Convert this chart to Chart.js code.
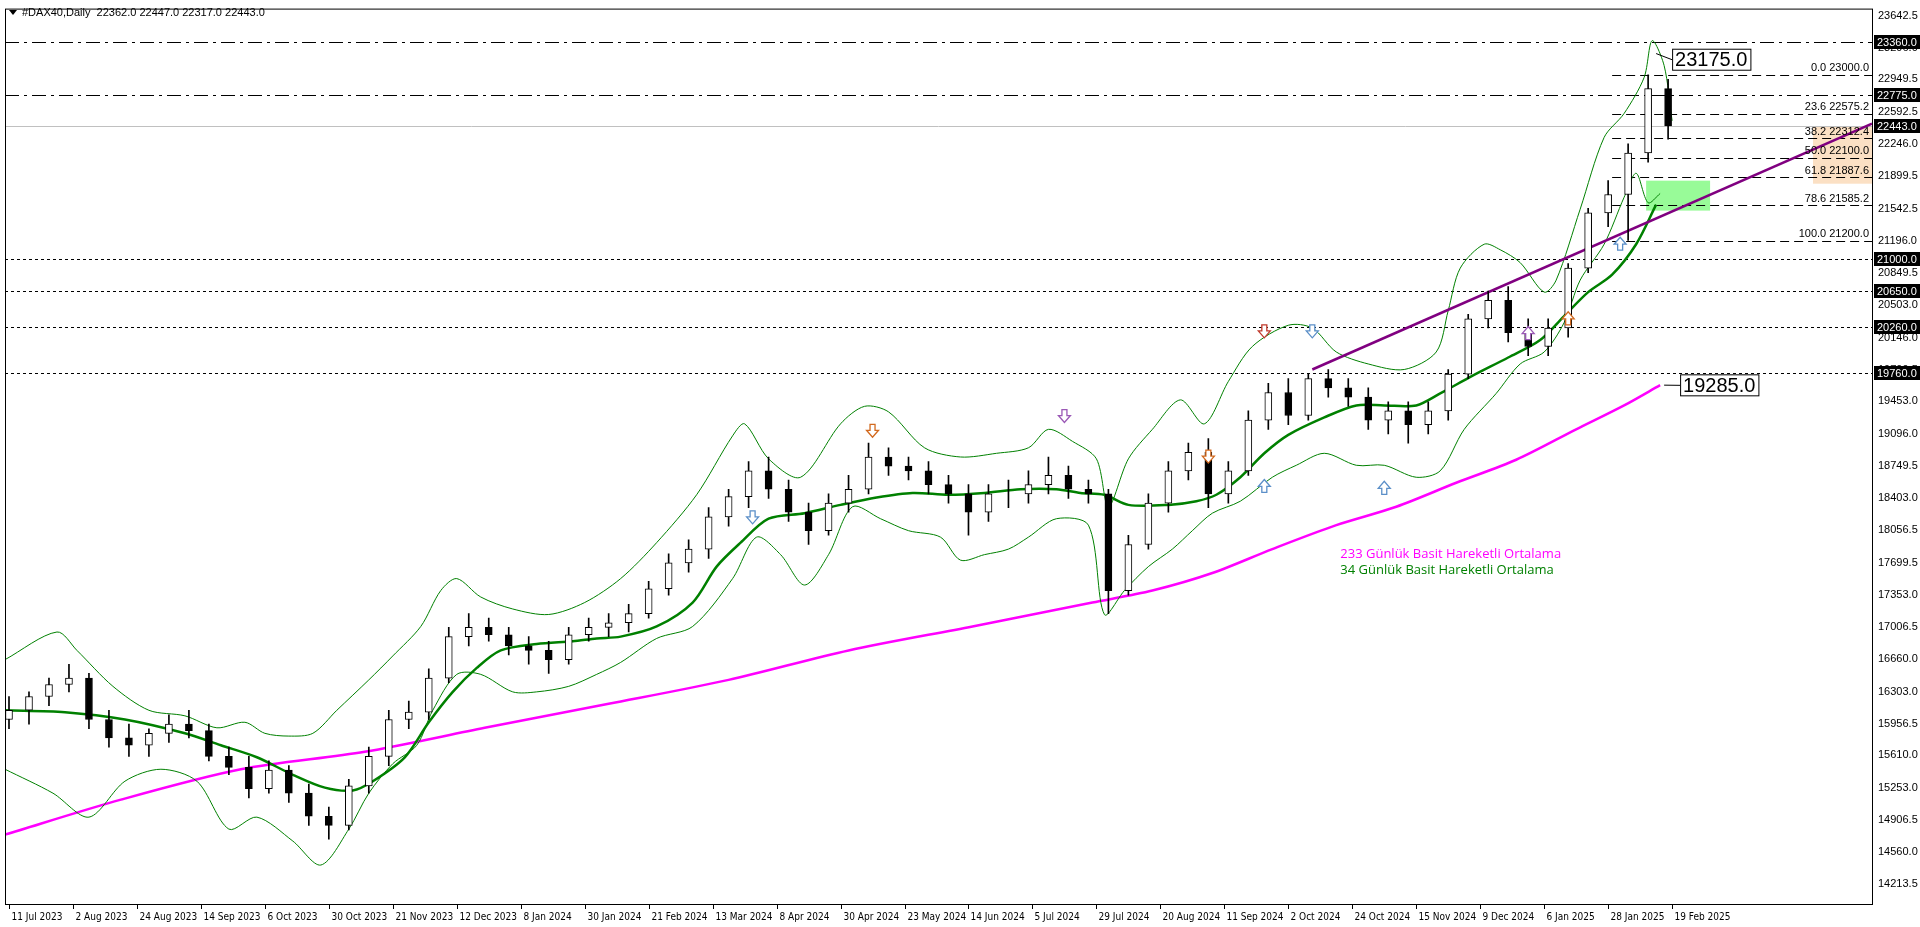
<!DOCTYPE html>
<html>
<head>
<meta charset="utf-8">
<script src="https://cdn.jsdelivr.net/npm/chart.js@4/dist/chart.umd.min.js"></script>
<style>
  html, body { margin: 0; padding: 0; background: #fff; }
  #wrap { width: 1920px; height: 927px; position: relative; }
</style>
</head>
<body>
<div id="wrap"><canvas id="chart"></canvas></div>
<script>
// weekly-sampled candles (bar index = trading days since 11 Jul 2023)
const candleBars = [0,5,10,15,20,25,30,35,40,45,50,55,60,65,70,75,80,85,90,95,100,105,110,115,120,125,130,135,140,145,150,155,160,165,170,175,180,185,190,195,200,205,210,215,220,225,230,235,240,245,250,255,260,265,270,275,280,285,290,295,300,305,310,315,320,325,330,335,340,345,350,355,360,365,370,375,380,385,390,395,400,405,410,415];
const candleOpen = [16000,16100,16250,16380,16450,16000,15800,15720,15850,15950,15880,15600,15480,15250,15450,15200,14950,14850,15280,15600,16000,16080,16450,16900,17000,16920,16800,16750,16650,16920,17000,17050,17150,17420,17700,17850,18200,18420,18700,18500,18250,18050,18350,18500,18850,18750,18700,18550,18450,18250,18450,18450,18550,18650,18500,18450,17400,17900,18350,18700,18900,18450,18700,19250,19550,19300,19700,19600,19500,19250,19350,19200,19350,19750,20350,20550,20200,20050,20250,20900,21500,21700,22150,22850];
const candleHigh = [16250,16300,16450,16600,16500,16100,15950,15900,16050,16100,15950,15700,15600,15550,15500,15300,15050,15350,15700,16100,16200,16550,17000,17150,17100,17000,16900,16850,17000,17100,17150,17250,17500,17800,17950,18300,18500,18800,18850,18600,18350,18450,18650,19000,18950,18850,18800,18650,18550,18550,18600,18700,18850,18750,18600,18500,18000,18450,18800,19000,19050,18800,19350,19650,19700,19750,19800,19700,19600,19450,19450,19450,19800,20400,20650,20700,20350,20350,20950,21550,21850,22250,23000,22950];
const candleLow = [15900,15950,16150,16300,15900,15700,15600,15600,15750,15800,15550,15400,15150,15200,15100,14850,14700,14800,15200,15500,15900,16000,16400,16800,16850,16700,16600,16500,16600,16850,16900,16950,17100,17350,17600,17750,18100,18300,18400,18150,17900,18000,18250,18450,18650,18600,18450,18350,18000,18150,18300,18350,18450,18400,18350,17150,17350,17850,18250,18600,18300,18350,18650,19150,19200,19250,19500,19400,19150,19100,19000,19100,19250,19700,20250,20100,19950,19950,20150,20850,21350,21200,22050,22300];
const candleClose = [16100,16250,16380,16450,16000,15800,15720,15850,15950,15880,15600,15480,15250,15450,15200,14950,14850,15280,15600,16000,16080,16450,16900,17000,16920,16800,16750,16650,16920,17000,17050,17150,17420,17700,17850,18200,18420,18700,18500,18250,18050,18350,18500,18850,18750,18700,18550,18450,18250,18450,18450,18550,18650,18500,18450,17400,17900,18350,18700,18900,18450,18700,19250,19550,19300,19700,19600,19500,19250,19350,19200,19350,19750,20350,20550,20200,20050,20250,20900,21500,21700,22150,22850,22443];

// Bollinger bands & moving averages
const upperBars = [-1,12,17,26,35,44,52,59,64,70,76,82,90,96,103,108,112,118,126,135,144,153,162,172,181,184,190,198,208,214,220,229,238,247,255,260,266,272,275,280,286,293,299,305,311,320,326,332,340,349,357,360,363,369,373,378,384,387,393,399,404,409,411,414,416];
const upperVals = [16650,16950,16750,16360,16100,16040,15910,15970,15850,15820,15850,16100,16430,16690,17010,17400,17530,17330,17200,17140,17270,17530,17920,18440,19080,19210,18830,18630,19210,19400,19340,18950,18850,18890,18950,19150,19020,18830,18310,18830,19150,19470,19210,19670,20050,20280,20250,19990,19860,19800,19990,20440,20900,21160,21100,20960,20640,20770,21540,22320,22580,22970,23370,23100,22500];
const lowerBars = [-1,11,20,29,38,47,55,62,71,78,85,90,96,102,106,112,118,126,132,140,147,153,162,171,181,187,193,199,205,211,218,225,233,238,244,250,255,262,270,274,279,285,291,296,301,308,316,322,329,337,344,352,358,364,372,378,384,389,393,399,404,407,410,413];
const lowerVals = [15460,15200,14940,15330,15460,15330,14810,14940,14680,14420,14810,15200,15520,15720,16100,16490,16490,16300,16300,16360,16490,16620,16880,17010,17530,17980,17790,17460,17790,18310,18180,18050,17980,17730,17790,17850,17980,18180,18110,17140,17400,17660,17850,18050,18240,18370,18630,18760,18890,18760,18760,18630,18700,19150,19540,19860,19990,20310,20770,21160,21670,21930,21610,21710];
const smaBars = [-1,14,29,44,53,62,71,79,86,91,99,105,111,117,123,132,141,147,153,162,171,177,183,190,199,208,217,226,235,244,253,262,268,274,280,290,297,302,308,314,320,329,337,344,352,358,366,375,383,389,395,401,407,412];
const smaVals = [16100,16080,16000,15850,15720,15590,15400,15260,15230,15330,15590,15970,16300,16560,16750,16820,16850,16880,16900,17010,17270,17660,17920,18180,18240,18330,18410,18460,18440,18460,18500,18500,18460,18440,18330,18330,18370,18440,18630,18890,19090,19280,19410,19410,19410,19540,19730,19930,20120,20380,20640,20830,21160,21590];
const sma233Bars = [-1,28,58,89,119,150,180,210,241,271,286,301,316,332,347,362,377,392,404,413];
const sma233Vals = [14750,15130,15460,15650,15910,16170,16430,16750,17010,17270,17400,17590,17850,18110,18310,18570,18820,19150,19410,19630];

const xTickBars = [0,16,32,48,64,80,96,112,128,144,160,176,192,208,224,240,256,272,288,304,320,336,352,368,384,400,416];
const xTickLabels = ['11 Jul 2023','2 Aug 2023','24 Aug 2023','14 Sep 2023','6 Oct 2023','30 Oct 2023','21 Nov 2023','12 Dec 2023','8 Jan 2024','30 Jan 2024','21 Feb 2024','13 Mar 2024','8 Apr 2024','30 Apr 2024','23 May 2024','14 Jun 2024','5 Jul 2024','29 Jul 2024','20 Aug 2024','11 Sep 2024','2 Oct 2024','24 Oct 2024','15 Nov 2024','9 Dec 2024','6 Jan 2025','28 Jan 2025','19 Feb 2025'];
const yTickValues = [23642.5,23296.0,22949.5,22592.5,22246.0,21899.5,21542.5,21196.0,20849.5,20503.0,20146.0,19799.5,19453.0,19096.0,18749.5,18403.0,18056.5,17699.5,17353.0,17006.5,16660.0,16303.0,15956.5,15610.0,15253.0,14906.5,14560.0,14213.5];

const dashDotLevels = [23360, 22775];
const dottedLevels = [21000, 20650, 20260, 19760];
const currentPrice = 22443;
const axisBoxLevels = [23360, 22775, 22443, 21000, 20650, 20260, 19760];
const fibPercents = ['0.0','23.6','38.2','50.0','61.8','78.6','100.0'];
const fibLevels = [23000.0, 22575.2, 22312.4, 22100.0, 21887.6, 21585.2, 21200.0];
const fibStartBar = 401;
const trendBars = [326, 466];
const trendVals = [19800, 22470];
const arrowBars = [186, 216, 264, 300, 314, 326, 314, 344, 380, 390, 403];
const arrowVals = [18200, 19140, 19300, 18860, 20220, 20220, 18530, 18510, 20190, 20350, 21160];
const arrowDirs = ['down','down','down','down','down','down','up','up','up','up','up'];
const arrowColors = ['#5b8fc8','#d2691e','#9b59b6','#d2691e','#c0392b','#5b8fc8','#5b8fc8','#5b8fc8','#9b59b6','#d2691e','#5b8fc8'];

const FONT = '"Liberation Sans", Arial, sans-serif';
const NARROW = '"DejaVu Sans Condensed", "Liberation Sans Narrow", "Liberation Sans", sans-serif';

function pts(bars, vals) {
  return bars.map((b, i) => ({ x: b, y: vals[i] }));
}

const bodyData = candleBars.map((b, i) => ({ x: b, y: [candleOpen[i], candleClose[i]] }));
const wickData = candleBars.map((b, i) => ({ x: b, y: [candleLow[i], candleHigh[i]] }));
const bodyColors = candleBars.map((_, i) => (candleClose[i] >= candleOpen[i] ? '#ffffff' : '#000000'));

const overlay = {
  id: 'overlay',
  beforeDatasetsDraw(chart) {
    const { ctx, chartArea: a, scales: { x, y } } = chart;
    ctx.save();
    // peach and green zones
    ctx.fillStyle = '#fbe0c4';
    ctx.fillRect(1813, y.getPixelForValue(22433), a.right - 1813, y.getPixelForValue(21817) - y.getPixelForValue(22433));
    ctx.fillStyle = '#98fb98';
    ctx.fillRect(x.getPixelForValue(409.5), y.getPixelForValue(21850), x.getPixelForValue(425.5) - x.getPixelForValue(409.5), y.getPixelForValue(21525) - y.getPixelForValue(21850));
    ctx.lineWidth = 1;
    ctx.strokeStyle = '#000';
    ctx.setLineDash([14, 5, 3, 5]);
    dashDotLevels.forEach((v) => {
      const py = Math.round(y.getPixelForValue(v)) + 0.5;
      ctx.beginPath(); ctx.moveTo(a.left, py); ctx.lineTo(a.right, py); ctx.stroke();
    });
    ctx.setLineDash([3, 3]);
    dottedLevels.forEach((v) => {
      const py = Math.round(y.getPixelForValue(v)) + 0.5;
      ctx.beginPath(); ctx.moveTo(a.left, py); ctx.lineTo(a.right, py); ctx.stroke();
    });
    ctx.setLineDash([9, 5]);
    fibLevels.forEach((v) => {
      const py = Math.round(y.getPixelForValue(v)) + 0.5;
      ctx.beginPath(); ctx.moveTo(x.getPixelForValue(fibStartBar), py); ctx.lineTo(a.right, py); ctx.stroke();
    });
    ctx.setLineDash([]);
    ctx.strokeStyle = '#c0c0c0';
    const cp = Math.round(y.getPixelForValue(currentPrice)) + 0.5;
    ctx.beginPath(); ctx.moveTo(a.left, cp); ctx.lineTo(a.right, cp); ctx.stroke();
    ctx.restore();
  },
  afterDatasetsDraw(chart) {
    const { ctx, chartArea: a, scales: { x, y } } = chart;
    ctx.save();
    // fib labels
    ctx.font = '11px ' + FONT;
    ctx.fillStyle = '#000';
    ctx.textAlign = 'right';
    ctx.textBaseline = 'bottom';
    fibLevels.forEach((v, i) => {
      ctx.fillText(fibPercents[i] + ' ' + v.toFixed(1), a.right - 3, y.getPixelForValue(v) - 1);
    });
    // arrows
    arrowBars.forEach((b, i) => {
      const px = x.getPixelForValue(b);
      const py = y.getPixelForValue(arrowVals[i]);
      const d = arrowDirs[i] === 'down' ? 1 : -1;
      ctx.beginPath();
      ctx.moveTo(px - 2.5, py - 6 * d);
      ctx.lineTo(px + 2.5, py - 6 * d);
      ctx.lineTo(px + 2.5, py);
      ctx.lineTo(px + 6, py);
      ctx.lineTo(px, py + 7 * d);
      ctx.lineTo(px - 6, py);
      ctx.lineTo(px - 2.5, py);
      ctx.closePath();
      ctx.fillStyle = '#fff';
      ctx.fill();
      ctx.strokeStyle = arrowColors[i];
      ctx.lineWidth = 1.3;
      ctx.stroke();
    });
    // value boxes
    ctx.font = '20px ' + FONT;
    ctx.textAlign = 'left';
    ctx.textBaseline = 'middle';
    [[416, 23163, '23175.0', 412, 23230], [418, 19628, '19285.0', 414, 19630]].forEach(([b, v, t, lb, lv]) => {
      const px = x.getPixelForValue(b);
      const py = y.getPixelForValue(v);
      const w = ctx.measureText(t).width + 6;
      ctx.strokeStyle = '#000';
      ctx.lineWidth = 1;
      ctx.beginPath(); ctx.moveTo(x.getPixelForValue(lb), y.getPixelForValue(lv)); ctx.lineTo(px, py); ctx.stroke();
      ctx.fillStyle = '#fff';
      ctx.fillRect(px, py - 11, w, 22);
      ctx.strokeRect(px + 0.5, py - 10.5, w, 21);
      ctx.fillStyle = '#000';
      ctx.fillText(t, px + 3, py + 1);
    });
    // legend texts
    ctx.font = '13px "Open Sans", ' + FONT;
    ctx.fillStyle = '#ff00ff';
    ctx.fillText('233 Günlük Basit Hareketli Ortalama', x.getPixelForValue(333), y.getPixelForValue(17789));
    ctx.fillStyle = '#008000';
    ctx.fillText('34 Günlük Basit Hareketli Ortalama', x.getPixelForValue(333), y.getPixelForValue(17620));
    // frame
    ctx.strokeStyle = '#000';
    ctx.lineWidth = 1;
    ctx.strokeRect(a.left + 0.5, a.top + 0.5, a.right - a.left, a.bottom - a.top);
    // axis boxes
    ctx.font = '11px ' + FONT;
    axisBoxLevels.forEach((v) => {
      const py = Math.round(y.getPixelForValue(v));
      ctx.fillStyle = '#000';
      ctx.fillRect(a.right + 2, py - 7, 46, 14);
      ctx.fillStyle = '#fff';
      ctx.fillText(v.toFixed(1), a.right + 5, py + 1);
    });
    // x labels
    ctx.font = '10px ' + NARROW;
    ctx.fillStyle = '#000';
    ctx.strokeStyle = '#000';
    xTickBars.forEach((b, i) => {
      const px = Math.round(x.getPixelForValue(b)) + 0.5;
      ctx.beginPath(); ctx.moveTo(px, a.bottom); ctx.lineTo(px, a.bottom + 5); ctx.stroke();
      ctx.fillText(xTickLabels[i], px + 2, a.bottom + 13);
    });
    // header
    ctx.font = '11px ' + FONT;
    ctx.beginPath();
    ctx.moveTo(9, 10); ctx.lineTo(17, 10); ctx.lineTo(13, 15); ctx.closePath(); ctx.fill();
    ctx.fillText('#DAX40,Daily  22362.0 22447.0 22317.0 22443.0', 22, 13);
    ctx.restore();
  },
};

new Chart(document.querySelector('#chart'), {
  data: {
    datasets: [
      { type: 'line', data: pts(sma233Bars, sma233Vals), borderColor: '#ff00ff', borderWidth: 2.5, pointRadius: 0, tension: 0.3, order: 5 },
      { type: 'line', data: pts(upperBars, upperVals), borderColor: '#008000', borderWidth: 1, pointRadius: 0, tension: 0.3, order: 4 },
      { type: 'line', data: pts(lowerBars, lowerVals), borderColor: '#008000', borderWidth: 1, pointRadius: 0, tension: 0.3, order: 4 },
      { type: 'line', data: pts(smaBars, smaVals), borderColor: '#008000', borderWidth: 2.5, pointRadius: 0, tension: 0.3, order: 3 },
      { type: 'line', data: pts(trendBars, trendVals), borderColor: '#800080', borderWidth: 2.5, pointRadius: 0, order: 2 },
      { type: 'bar', data: wickData, backgroundColor: '#000', barThickness: 1, grouped: false, order: 1 },
      { type: 'bar', data: bodyData, backgroundColor: bodyColors, borderColor: '#000', borderWidth: 1, borderSkipped: false, barThickness: 7, grouped: false, order: 0 },
    ],
  },
  options: {
    responsive: true,
    maintainAspectRatio: false,
    animation: false,
    devicePixelRatio: 1,
    layout: { padding: { left: 5, top: 4, right: 0, bottom: 0 } },
    plugins: { legend: { display: false }, tooltip: { enabled: false } },
    scales: {
      x: {
        type: 'linear',
        min: -1,
        max: 466,
        offset: false,
        grid: { display: false, drawTicks: false },
        border: { display: false },
        ticks: { display: false },
        afterFit: (s) => { s.height = 23; },
      },
      y: {
        position: 'right',
        min: 13997,
        max: 23718,
        afterBuildTicks: (s) => { s.ticks = yTickValues.map((v) => ({ value: v })); },
        afterFit: (s) => { s.width = 48; },
        grid: { display: false, drawOnChartArea: false, drawTicks: true, tickLength: 4, tickColor: '#000' },
        border: { display: false },
        ticks: {
          color: '#000',
          padding: 2,
          font: { family: FONT, size: 11 },
          callback: (v) => Number(v).toFixed(1),
        },
      },
    },
  },
  plugins: [overlay],
});
</script>
</body>
</html>
